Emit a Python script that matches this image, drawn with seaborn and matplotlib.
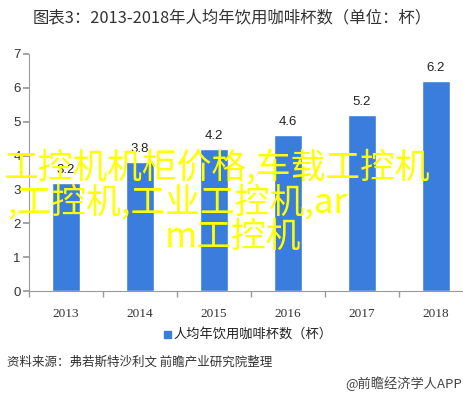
import matplotlib
matplotlib.use("Agg")
import matplotlib.pyplot as plt
import seaborn as sns
import pandas as pd

years = ["2013", "2014", "2015", "2016", "2017", "2018"]
cups = [3.2, 3.8, 4.2, 4.6, 5.2, 6.2]
title = "图表3：2013-2018年人均年饮用咖啡杯数（单位：杯）"
series_name = "人均年饮用咖啡杯数（杯）"
source = "资料来源：弗若斯特沙利文 前瞻产业研究院整理"
brand = "@前瞻经济学人APP"
overlay = ["工控机机柜价格,车载工控机", ",工控机,工业工控机,ar", "m工控机"]

sns.set_theme(style="white")
plt.rcParams['font.family'] = ['Noto Sans CJK SC', 'DejaVu Sans']

df = pd.DataFrame({"year": years, "cups": cups})
bar_color = "#3a7ddc"

fig = plt.figure(figsize=(4.64, 3.96), dpi=100)
ax = fig.add_axes([29/464, (396-291)/396, 444/464, (291-54)/396])
sns.barplot(data=df, x="year", y="cups", color=bar_color, width=0.39,
            saturation=1, ax=ax, label=series_name)
ax.set_xlim(-0.5, 5.5)
ax.set_ylim(0, 7)
ax.set_yticks(range(0, 8))
ax.set_xlabel("")
ax.set_ylabel("")
for s in ["top", "right"]:
    ax.spines[s].set_visible(False)
for s in ["left", "bottom"]:
    ax.spines[s].set_color("#9a9a9a")
    ax.spines[s].set_linewidth(0.8)
ax.tick_params(axis="y", which="both", left=True, length=4, color="#9a9a9a",
               labelsize=9.5, labelcolor="#333333", pad=2)
for lab in ax.get_yticklabels():
    lab.set_family("Liberation Sans")
ax.set_xticks(range(6))
ax.set_xticklabels(years, family="Liberation Serif", fontsize=9.5, color="#333333")
ax.tick_params(axis="x", which="major", bottom=False, pad=6)
ax.set_xticks([i + 0.5 for i in range(-1, 6)], minor=True)
ax.tick_params(axis="x", which="minor", bottom=True, length=4, color="#9a9a9a")

for i, v in enumerate(cups):
    ax.annotate(f"{v}", (i, v), xytext=(0, 5), textcoords="offset points",
                ha="center", va="bottom", fontsize=9.5, color="#222222",
                family="Liberation Sans")

if ax.get_legend():
    ax.get_legend().remove()
fig.text(0.5, 1 - 18/396, title, ha="center", va="center", fontsize=11.8, color="#333333")

fig.patches.append(plt.Rectangle((164/464, 1 - 338/396), 7/464, 7/396,
                                 transform=fig.transFigure, color=bar_color))
fig.text(173/464, 1 - 334/396, series_name, ha="left", va="center", fontsize=9.5, color="#222222")
fig.text(7/464, 1 - 362/396, source, ha="left", va="center", fontsize=9, color="#333333",
         style="italic")
fig.text(462/464, 1 - 384/396, brand, ha="right", va="center", fontsize=9.5, color="#444444")

ys = [168, 203, 237]
xs = [3, 7, 165]
for t, x, y in zip(overlay, xs, ys):
    fig.text(x/464, 1 - y/396, t, ha="left", va="center", fontsize=25,
             color="#ffff00", zorder=10)

fig.savefig("out.png", dpi=100)
